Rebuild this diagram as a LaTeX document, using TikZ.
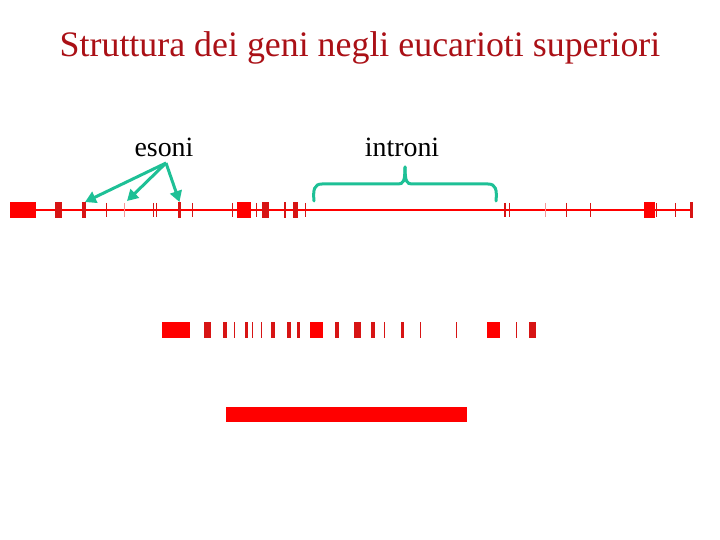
\documentclass[tikz,border=0pt]{standalone}
\usepackage{fontspec}
\setmainfont{Liberation Serif}
\usetikzlibrary{arrows.meta}
\definecolor{titlered}{RGB}{170,16,22}
\definecolor{exred}{RGB}{255,0,0}
\definecolor{darkex}{RGB}{215,20,20}
\definecolor{lightex}{RGB}{245,150,150}
\definecolor{teal}{RGB}{30,192,150}
\tikzset{
  exon/.style={fill=exred},
  smallexon/.style={fill=darkex},
  tickline/.style={draw=darkex,line width=1.2bp},
  lighttick/.style={draw=lightex,line width=1.2bp},
  geneline/.style={draw=exred,line width=2bp},
  pointer/.style={draw=teal,line width=3bp,-{Triangle[length=11bp,width=12bp]}},
  bracepath/.style={draw=teal,line width=3bp,line cap=round},
  lbl/.style={font=\fontsize{28}{32}\selectfont,text=black,inner sep=0pt,anchor=base}
}
\begin{document}
\begin{tikzpicture}[x=1bp,y=-1bp]
\useasboundingbox (0,0) rectangle (720,540);
% title
\node[inner sep=0pt,anchor=base,text=titlered,font=\fontsize{36}{40}\selectfont] (title) at (360,57) {Struttura dei geni negli eucarioti superiori};
% labels
\node[lbl] (esoni) at (164,157) {esoni};
\node[lbl] (introni) at (402,157) {introni};
% top gene
\draw[geneline] (10,210) -- (692,210);
\foreach \a/\b in {10/36,237/251,644/655}{\fill[exon] (\a,202) rectangle (\b,218);}
\foreach \a/\b in {55/62,82/86,178/181,262/269,284/286,293/298,690/693}{\fill[smallexon] (\a,202) rectangle (\b,218);}
\foreach \x in {106.7,153.7,156.7,192.3,232.7,256.7,305.7,505,509.3,566.7,590.3,656.7,675.7}{\draw[tickline] (\x,203) -- (\x,217);}
\foreach \x in {124.7,545.3}{\draw[lighttick] (\x,203) -- (\x,217);}
% arrows
\coordinate (src) at (166,163);
\coordinate (e1) at (85,202);
\coordinate (e2) at (127,201);
\coordinate (e3) at (179.5,202);
\draw[pointer] (src) -- (e1);
\draw[pointer] (src) -- (e2);
\draw[pointer] (src) -- (e3);
% brace
\coordinate (bl) at (314,201);
\coordinate (br) at (496,201);
\coordinate (bt) at (405,167);
\draw[bracepath] (bl) .. controls (313,190) and (314,184) .. (322,184) -- (398,184) .. controls (403,184) and (405,182) .. (bt);
\draw[bracepath] (bt) .. controls (405,182) and (407,184) .. (412,184) -- (488,184) .. controls (496,184) and (497,190) .. (br);
% middle row (mRNA)
\foreach \a/\b in {162/190,310/323,487/500}{\fill[exon] (\a,322) rectangle (\b,338);}
\foreach \a/\b in {204/211,223/227,245/248,271/275,287/291,297/300,335/339,354/361,371/375,401/404,529/536}{\fill[smallexon] (\a,322) rectangle (\b,338);}
\foreach \x in {234.3,252.3,261.3,384.3,420.3,456.3,516.3}{\draw[tickline] (\x,322) -- (\x,338);}
% bottom bar
\fill[exon] (226,407) rectangle (467,422);
\end{tikzpicture}
\end{document}
